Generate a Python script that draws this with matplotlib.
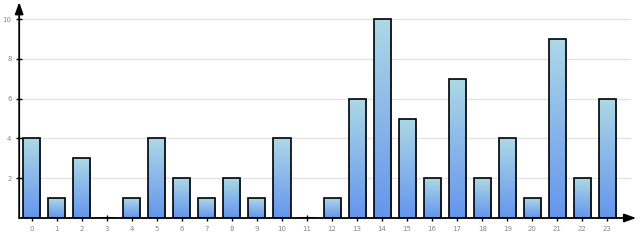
import numpy as np
import matplotlib
matplotlib.use("Agg")
import matplotlib.pyplot as plt
from matplotlib.colors import LinearSegmentedColormap

# data
hours = list(range(24))
counts = [4, 1, 3, 0, 1, 4, 2, 1, 2, 1, 4, 0, 1, 6, 10, 5, 2, 7, 2, 4, 1, 9, 2, 6]
y_ticks = [2, 4, 6, 8, 10]

W, H = 640, 240
fig = plt.figure(figsize=(W / 100, H / 100), dpi=100)

# axes frame: x=-0.5 at px 19.2, 25 px per bar; y=0 at px 218, ~19.9 px per unit
px_per_x = 25.03
px_per_y = 19.9
x0_px = 31.7 - 0.5 * px_per_x
base_px = 218
xmin, xmax = -0.5, (W - x0_px) / px_per_x - 0.5
ymin, ymax = 0, base_px / px_per_y
ax = fig.add_axes([x0_px / W, (H - base_px) / H, 1 - x0_px / W, base_px / H])
ax.set_xlim(xmin, xmax)
ax.set_ylim(ymin, ymax)

cmap = LinearSegmentedColormap.from_list("grad", ["#6495ed", "#add8e6"])
grad = np.linspace(0, 1, 256).reshape(-1, 1)

bw = 0.68
bars = ax.bar(hours, counts, width=bw, facecolor="none", edgecolor="black",
              linewidth=1.2, zorder=3)
for b, v in zip(bars, counts):
    if v <= 0:
        continue
    x = b.get_x()
    im = ax.imshow(grad, cmap=cmap, origin="lower", aspect="auto",
                   extent=[x, x + bw, 0, v], zorder=2)
    im.set_clip_path(b)
ax.set_xlim(xmin, xmax)
ax.set_ylim(ymin, ymax)

# grid
for t in y_ticks:
    ax.plot([-0.5, 23.9], [t, t], color="#e3e3e3", lw=1, zorder=1)

for s in ["top", "right", "left", "bottom"]:
    ax.spines[s].set_visible(False)

# axes with arrows
ax.annotate("", xy=(-0.5, 10.85), xytext=(-0.5, 0),
            arrowprops=dict(arrowstyle="-|>,head_length=0.7,head_width=0.25",
                            color="black", lw=1.3, shrinkA=0, shrinkB=0),
            annotation_clip=False, zorder=5)
ax.annotate("", xy=(24.15, 0), xytext=(-0.5, 0),
            arrowprops=dict(arrowstyle="-|>,head_length=0.7,head_width=0.25",
                            color="black", lw=1.3, shrinkA=0, shrinkB=0),
            annotation_clip=False, zorder=5)

ax.set_xticks(hours)
ax.set_xticklabels([str(h) for h in hours])
ax.set_yticks(y_ticks)
ax.set_yticklabels([str(t) for t in y_ticks])
ax.tick_params(axis="both", direction="inout", length=5, width=1, color="black",
               labelsize=5, labelcolor="#888888", pad=3)
ax.tick_params(axis="y", pad=3)

fig.savefig("out.png", dpi=100)
